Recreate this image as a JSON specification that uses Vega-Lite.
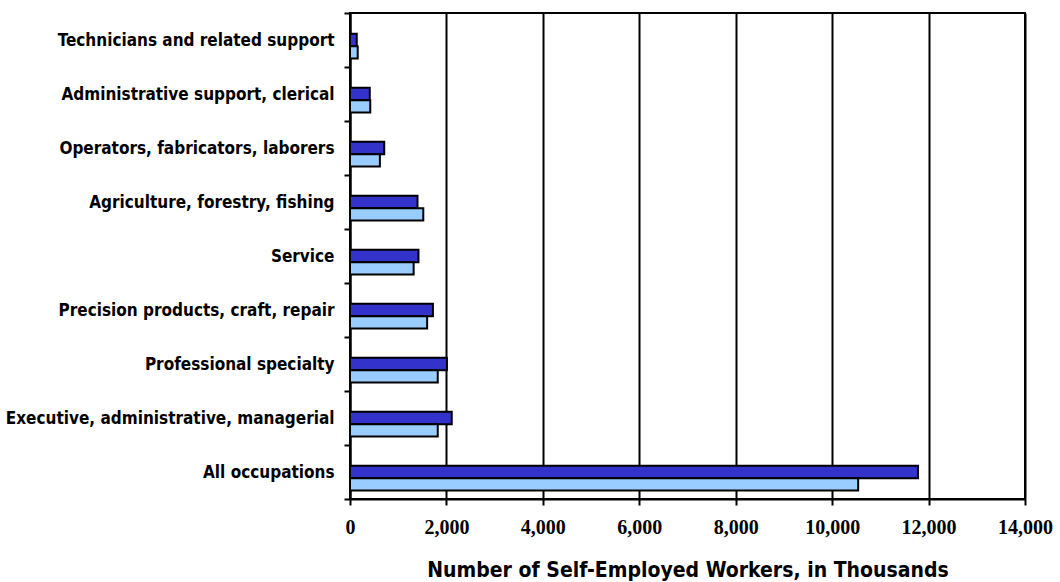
{
  "$schema": "https://vega.github.io/schema/vega-lite/v6.json",
  "autosize": "none",
  "width": 675,
  "height": 486,
  "padding": {"left": 350, "top": 13, "right": 35, "bottom": 83},
  "background": "white",
  "config": {
    "view": {"stroke": "black", "strokeWidth": 2},
    "axis": {"domainColor": "black", "domainWidth": 2, "tickColor": "black", "tickWidth": 2}
  },
  "data": {
    "values": [
      {"occupation": "Technicians and related support", "series": "Series A", "workers": 140},
      {"occupation": "Technicians and related support", "series": "Series B", "workers": 160},
      {"occupation": "Administrative support, clerical", "series": "Series A", "workers": 410},
      {"occupation": "Administrative support, clerical", "series": "Series B", "workers": 420},
      {"occupation": "Operators, fabricators, laborers", "series": "Series A", "workers": 710},
      {"occupation": "Operators, fabricators, laborers", "series": "Series B", "workers": 620},
      {"occupation": "Agriculture, forestry, fishing", "series": "Series A", "workers": 1400},
      {"occupation": "Agriculture, forestry, fishing", "series": "Series B", "workers": 1520},
      {"occupation": "Service", "series": "Series A", "workers": 1420},
      {"occupation": "Service", "series": "Series B", "workers": 1320},
      {"occupation": "Precision products, craft, repair", "series": "Series A", "workers": 1720},
      {"occupation": "Precision products, craft, repair", "series": "Series B", "workers": 1600},
      {"occupation": "Professional specialty", "series": "Series A", "workers": 2010},
      {"occupation": "Professional specialty", "series": "Series B", "workers": 1820},
      {"occupation": "Executive, administrative, managerial", "series": "Series A", "workers": 2110},
      {"occupation": "Executive, administrative, managerial", "series": "Series B", "workers": 1820},
      {"occupation": "All occupations", "series": "Series A", "workers": 11780},
      {"occupation": "All occupations", "series": "Series B", "workers": 10540}
    ]
  },
  "mark": {"type": "bar", "stroke": "black", "strokeWidth": 2},
  "encoding": {
    "y": {
      "field": "occupation",
      "type": "nominal",
      "sort": null,
      "scale": {"paddingInner": 0, "paddingOuter": 0},
      "axis": {
        "title": null,
        "tickBand": "extent",
        "tickSize": 6,
        "labelFont": "DejaVu Sans Condensed",
        "labelFontWeight": "bold",
        "labelFontSize": 17,
        "labelColor": "black",
        "labelPadding": 10,
        "labelLimit": 400
      }
    },
    "yOffset": {
      "field": "series",
      "type": "nominal",
      "scale": {"domain": ["gap", "Series A", "Series B"], "paddingInner": 0, "paddingOuter": 0.7}
    },
    "x": {
      "field": "workers",
      "type": "quantitative",
      "scale": {"domain": [0, 14000], "nice": false},
      "axis": {
        "title": "Number of Self-Employed Workers, in Thousands",
        "values": [0, 2000, 4000, 6000, 8000, 10000, 12000, 14000],
        "format": ",d",
        "grid": true,
        "gridColor": "black",
        "gridWidth": 2,
        "gridOpacity": 1,
        "tickSize": 6,
        "labelFont": "Liberation Serif",
        "labelFontWeight": "bold",
        "labelFontSize": 20,
        "labelColor": "black",
        "labelPadding": 12,
        "labelFlush": false,
        "labelOverlap": false,
        "labelBound": false,
        "titleFont": "DejaVu Sans Condensed",
        "titleFontWeight": "bold",
        "titleFontSize": 21,
        "titleColor": "black",
        "titlePadding": 22
      }
    },
    "color": {
      "field": "series",
      "type": "nominal",
      "scale": {"domain": ["Series A", "Series B"], "range": ["#3333CC", "#99CCFF"]},
      "legend": null
    }
  }
}
